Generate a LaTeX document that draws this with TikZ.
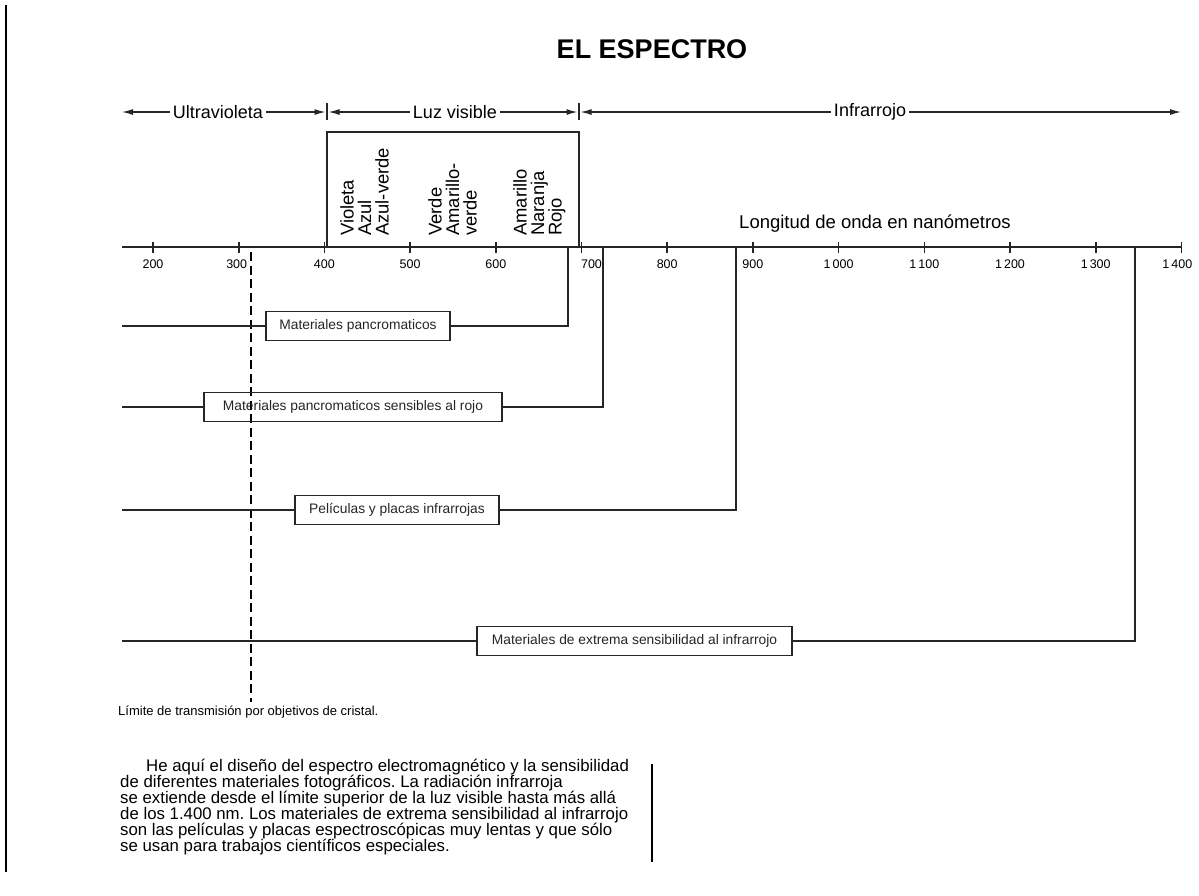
\documentclass[tikz,border=0pt]{standalone}
\usepackage{fontspec}
\setmainfont{Liberation Sans}
\usetikzlibrary{arrows.meta}
\frenchspacing
\begin{document}
\begin{tikzpicture}[x=1pt,y=-1pt,
  ln/.style={line width=1.3pt,black!85},
  arr/.style={ln,{Latex[length=11pt,width=6pt]}-{Latex[length=11pt,width=6pt]}},
  bandlbl/.style={fill=white,inner sep=3pt,font=\fontsize{18}{20}\selectfont},
  colorlbl/.style={rotate=90,anchor=north west,inner sep=0pt,align=left,font=\fontsize{18.4}{17.5}\selectfont},
  ticklbl/.style={inner sep=0pt,font=\fontsize{12.5}{12.5}\selectfont},
  matbox/.style={draw,line width=1.3pt,black!85,minimum height=29pt,inner sep=0pt,font=\fontsize{13.8}{14}\selectfont},
  note/.style={inner sep=0pt,anchor=west,font=\fontsize{13}{14}\selectfont}]
\useasboundingbox (0,0) rectangle (1199,895);
\fill[white] (0,0) rectangle (1199,895);
% left page edge
\coordinate (e1) at (6,5); \coordinate (e2) at (6,872);
\draw[line width=1.4pt] (e1) -- (e2);
% title
\node[inner sep=0pt,font=\fontsize{27}{27}\selectfont\bfseries] (title) at (652,49) {EL ESPECTRO};
% band arrows
\coordinate (s0) at (122,112); \coordinate (s1) at (327,112);
\coordinate (s2) at (579,112); \coordinate (s3) at (1181,112);
\draw[arr,shorten >=1.5pt] (s0) -- (s1);
\draw[arr,shorten <=1.5pt,shorten >=1.5pt] (s1) -- (s2);
\draw[arr,shorten <=1.5pt] (s2) -- (s3);
\draw[ln] ([yshift=-8pt]s1) -- ([yshift=9pt]s1);
\draw[ln] ([yshift=-8pt]s2) -- ([yshift=9pt]s2);
\node[bandlbl] (uv) at (218,112) {Ultravioleta};
\node[bandlbl] (vis) at (455,112) {Luz visible};
\node[bandlbl] (ir) at (870,112) {Infrarrojo};
% visible box
\coordinate (v1) at (327,247); \coordinate (v2) at (327,132);
\coordinate (v3) at (579,132); \coordinate (v4) at (579,247);
\draw[ln] (v1) -- (v2) -- (v3) -- (v4);
\node[colorlbl] (c1) at (340,236) {Violeta\\Azul\\Azul-verde};
\node[colorlbl] (c2) at (428,236) {Verde\\Amarillo-\\verde};
\node[colorlbl] (c3) at (513,236) {Amarillo\\Naranja\\Rojo};
% axis
\coordinate (a0) at (122,247); \coordinate (a1) at (1181,247);
\draw[line width=1.8pt,black!85] (a0) -- (a1);
\node[inner sep=0pt,font=\fontsize{18.5}{19}\selectfont] (lon) at (875,224) {Longitud de onda en nanómetros};
\foreach \n/\lab/\dx in {200/200/0,300/300/-2,400/400/0,500/500/0,600/600/0,700/700/10,800/800/0,900/900/0,1000/1\,000/0,1100/1\,100/0,1200/1\,200/0,1300/1\,300/0,1400/1\,400/-4}{
  \pgfmathsetmacro{\xx}{153+(\n-200)*0.857}
  \draw[line width=1.6pt,black!85] (\xx,241.5) -- (\xx,252.5);
  \node[ticklbl] at (\xx+\dx,264) {\lab};
}
% limit of glass transmission
\coordinate (d1) at (251,252); \coordinate (d2) at (251,702);
\draw[line width=2.3pt,dash pattern=on 9pt off 4.5pt] (d1) -- (d2);
\node[note] (lim) at (118,712) {Límite de transmisión por objetivos de cristal.};
% material rows
\node[matbox,minimum width=184pt] (b1) at (358,326) {Materiales pancromaticos};
\node[matbox,minimum width=298pt] (b2) at (353,407) {Materiales pancromaticos sensibles al rojo};
\node[matbox,minimum width=204pt] (b3) at (397,510) {Películas y placas infrarrojas};
\node[matbox,minimum width=315pt] (b4) at (634.5,641) {Materiales de extrema sensibilidad al infrarrojo};
\coordinate (l1) at (122,326); \coordinate (l2) at (122,407);
\coordinate (l3) at (122,510); \coordinate (l4) at (122,641);
\coordinate (r1) at (568,247); \coordinate (r2) at (603,247);
\coordinate (r3) at (736,247); \coordinate (r4) at (1135,247);
\draw[ln] (l1) -- (b1.west); \draw[ln] (b1.east) -| (r1);
\draw[ln] (l2) -- (b2.west); \draw[ln] (b2.east) -| (r2);
\draw[ln] (l3) -- (b3.west); \draw[ln] (b3.east) -| (r3);
\draw[ln] (l4) -- (b4.west); \draw[ln] (b4.east) -| (r4);
% caption
\node[inner sep=0pt,anchor=north west,align=left,font=\fontsize{16.8}{16}\selectfont] (par) at (120,759)
{\hspace*{26pt}He aquí el diseño del espectro electromagnético y la sensibilidad\\
de diferentes materiales fotográficos. La radiación infrarroja\\
se extiende desde el límite superior de la luz visible hasta más allá\\
de los 1.400 nm. Los materiales de extrema sensibilidad al infrarrojo\\
son las películas y placas espectroscópicas muy lentas y que sólo\\
se usan para trabajos científicos especiales.};
\coordinate (m1) at (652,764); \coordinate (m2) at (652,862);
\draw[line width=2.6pt] (m1) -- (m2);
\end{tikzpicture}
\end{document}
